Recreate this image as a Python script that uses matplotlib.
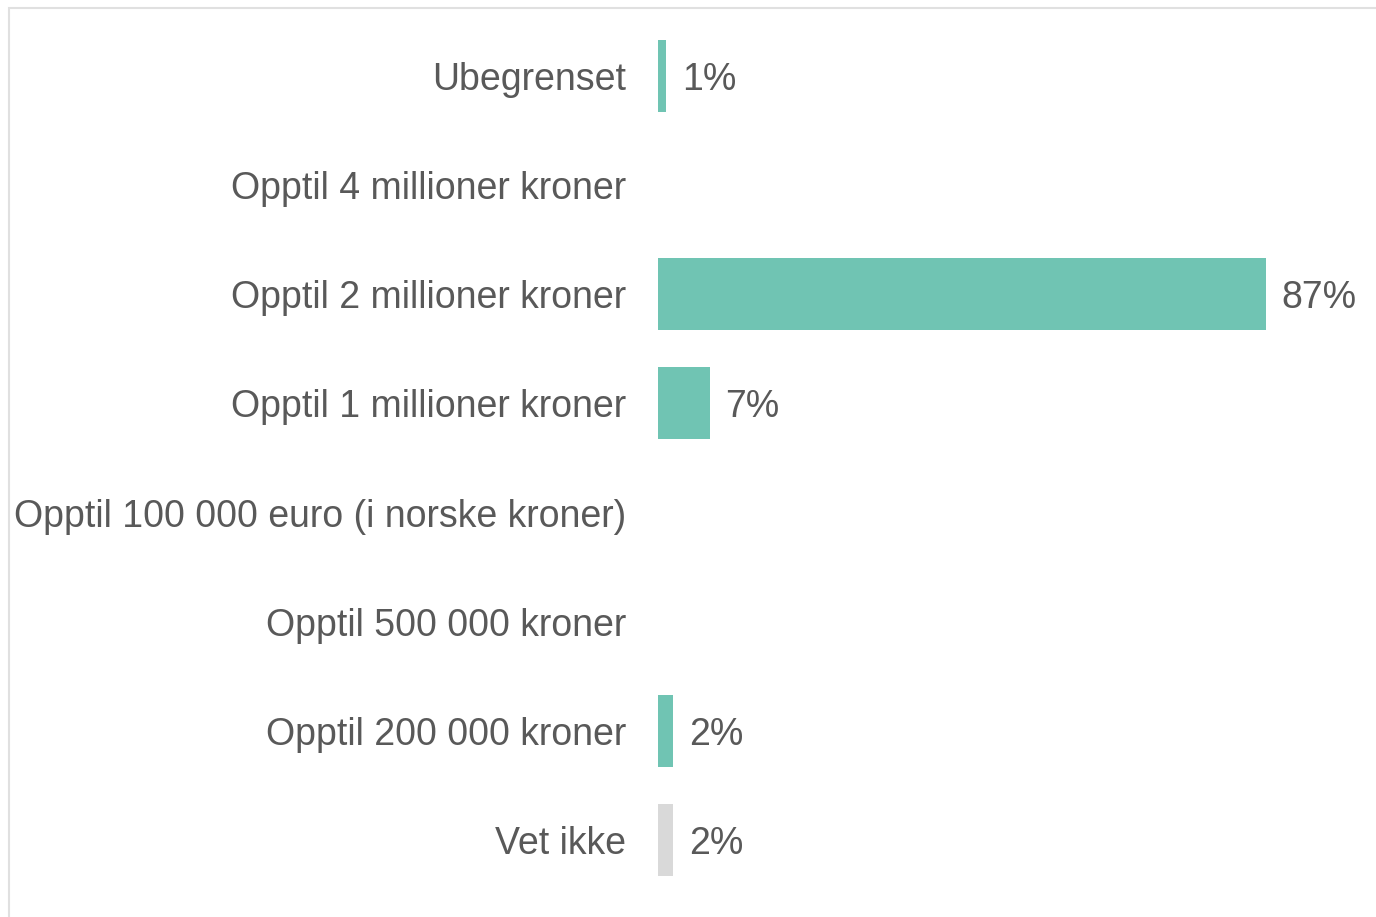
import numpy as np
import matplotlib.pyplot as plt
from matplotlib.patches import Rectangle

plt.rcParams['font.family'] = ['Liberation Sans', 'DejaVu Sans']

categories = ['Ubegrenset', 'Opptil 4 millioner kroner', 'Opptil 2 millioner kroner',
              'Opptil 1 millioner kroner', 'Opptil 100 000 euro (i norske kroner)',
              'Opptil 500 000 kroner', 'Opptil 200 000 kroner', 'Vet ikke']
values = [1.2, 0, 87.0, 7.4, 0, 0, 2.2, 2.2]
labels = ['1%', '', '87%', '7%', '', '', '2%', '2%']
colors = ['#70c4b3'] * 7 + ['#d9d9d9']

text_color = '#595959'

fig = plt.figure(figsize=(13.76, 9.17), dpi=100)
ax = fig.add_axes([658 / 1376, 1 - 894.5 / 917, 699 / 1376, 873 / 917])

y = np.arange(len(categories))
ax.barh(y, values, height=0.66, color=colors)
for yi, v, lab in zip(y, values, labels):
    if lab:
        ax.text(v + 2.2, yi, lab, va='center_baseline', ha='left',
                fontsize=27, color=text_color)

ax.set_xlim(0, 100)
ax.set_ylim(len(categories) - 0.5, -0.5)
ax.set_yticks(y)
ax.set_yticklabels(categories, fontsize=27, color=text_color, va='center_baseline')
ax.tick_params(axis='y', length=0, pad=23)
ax.set_xticks([])
for s in ax.spines.values():
    s.set_visible(False)

# thin frame around the chart (only top/left visible in the crop)
fig.patches.append(Rectangle((9 / 1376, -0.1), 1.2, 1 - 8 / 917 + 0.1,
                             transform=fig.transFigure, fill=False,
                             edgecolor='#e0e0e0', linewidth=1.5))

fig.savefig('out.png', dpi=100)
